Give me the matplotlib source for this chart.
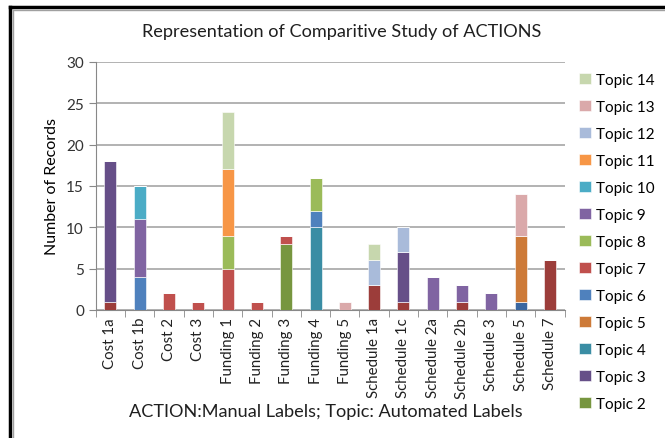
import matplotlib
matplotlib.use("Agg")
import matplotlib.pyplot as plt
from matplotlib.lines import Line2D
from matplotlib.patches import Patch
import numpy as np

plt.rcParams['font.family'] = ['Lato', 'DejaVu Sans']

categories = ['Cost 1a', 'Cost 1b', 'Cost 2', 'Cost 3', 'Funding 1', 'Funding 2', 'Funding 3',
              'Funding 4', 'Funding 5', 'Schedule 1a', 'Schedule 1c', 'Schedule 2a',
              'Schedule 2b', 'Schedule 3', 'Schedule 5', 'Schedule 7']

# records per topic, one value per category (stacked bottom to top: topic 0 .. topic 14)
topic0 = [0, 0, 0, 0, 0, 0, 0, 0, 0, 0, 0, 0, 0, 0, 1, 0]
topic1 = [1, 0, 0, 0, 0, 0, 0, 0, 0, 3, 1, 0, 1, 0, 0, 6]
topic2 = [0, 0, 0, 0, 0, 0, 8, 0, 0, 0, 0, 0, 0, 0, 0, 0]
topic3 = [17, 0, 0, 0, 0, 0, 0, 0, 0, 0, 6, 0, 0, 0, 0, 0]
topic4 = [0, 0, 0, 0, 0, 0, 0, 10, 0, 0, 0, 0, 0, 0, 0, 0]
topic5 = [0, 0, 0, 0, 0, 0, 0, 0, 0, 0, 0, 0, 0, 0, 8, 0]
topic6 = [0, 4, 0, 0, 0, 0, 0, 2, 0, 0, 0, 0, 0, 0, 0, 0]
topic7 = [0, 0, 2, 1, 5, 1, 1, 0, 0, 0, 0, 0, 0, 0, 0, 0]
topic8 = [0, 0, 0, 0, 4, 0, 0, 4, 0, 0, 0, 0, 0, 0, 0, 0]
topic9 = [0, 7, 0, 0, 0, 0, 0, 0, 0, 0, 0, 4, 2, 2, 0, 0]
topic10 = [0, 4, 0, 0, 0, 0, 0, 0, 0, 0, 0, 0, 0, 0, 0, 0]
topic11 = [0, 0, 0, 0, 8, 0, 0, 0, 0, 0, 0, 0, 0, 0, 0, 0]
topic12 = [0, 0, 0, 0, 0, 0, 0, 0, 0, 3, 3, 0, 0, 0, 0, 0]
topic13 = [0, 0, 0, 0, 0, 0, 0, 0, 1, 0, 0, 0, 0, 0, 5, 0]
topic14 = [0, 0, 0, 0, 7, 0, 0, 0, 0, 2, 0, 0, 0, 0, 0, 0]

topics = [topic0, topic1, topic2, topic3, topic4, topic5, topic6, topic7,
          topic8, topic9, topic10, topic11, topic12, topic13, topic14]
topic_names = ['Topic %d' % i for i in range(15)]
colors = ['#3B67A0', '#9C3D3A', '#77963F', '#664F88', '#3A8DA4', '#CD7A38',
          '#4F81BD', '#C0504D', '#9BBB59', '#8064A2', '#4BACC6', '#F79646',
          '#A9BBDA', '#DAA9AA', '#C7D7AE']

fig = plt.figure(figsize=(6.65, 4.39), dpi=100)
ax = fig.add_axes([0.144, 0.2916, 0.705, 0.565])

x = np.arange(len(categories))
bottom = np.zeros(len(categories))
for vals, c in zip(topics, colors):
    vals = np.array(vals, dtype=float)
    ax.bar(x, vals, 0.41, bottom=bottom, color=c, edgecolor='white', linewidth=0.4, zorder=3)
    bottom += vals

ax.set_xlim(-0.5, len(categories) - 0.5)
ax.set_ylim(0, 30)
ax.set_yticks(range(0, 31, 5))
ax.yaxis.grid(True, color='#A6A6A6', linewidth=1.2, zorder=0)
ax.set_xticks(x)
ax.set_xticklabels(categories, rotation=90, fontsize=10.8, color='#222222')
ax.set_xticks(np.arange(-0.5, len(categories), 1), minor=True)
ax.tick_params(axis='x', which='major', length=0, pad=5)
ax.tick_params(axis='x', which='minor', length=5, color='#888888')
ax.tick_params(axis='y', length=5, color='#888888', labelsize=11, labelcolor='#333333')
for s in ['top', 'right']:
    ax.spines[s].set_visible(False)
for s in ['left', 'bottom']:
    ax.spines[s].set_color('#888888')

ax.set_ylabel('Number of Records', fontsize=11.5, labelpad=5)
fig.text(0.514, 0.927, 'Representation of Comparitive Study of ACTIONS', ha='center', va='center',
         fontsize=13.1, color='#1F1F1F')
fig.text(0.49, 0.062, 'ACTION:Manual Labels; Topic: Automated Labels', ha='center', va='center',
         fontsize=13.1, color='#1F1F1F')

handles = [Patch(facecolor=colors[i], edgecolor='white', linewidth=0.4, label=topic_names[i])
           for i in range(14, 1, -1)]
fig.legend(handles=handles, loc='upper left', bbox_to_anchor=(0.862, 0.845), frameon=False,
           fontsize=11, handlelength=0.75, handleheight=0.75, handletextpad=0.35,
           labelspacing=0.85, borderaxespad=0)

# frame edges of the original chart box
fig.add_artist(Line2D([0.015, 0.015], [0, 0.982], color='black', linewidth=2.5))
fig.add_artist(Line2D([0.015, 1], [0.982, 0.982], color='black', linewidth=2.5))
fig.add_artist(Line2D([0.019, 0.019], [0, 0.975], color='#A0A0A0', linewidth=1))
fig.add_artist(Line2D([0.019, 1], [0.975, 0.975], color='#A0A0A0', linewidth=1))

fig.savefig('out.png', dpi=100)
